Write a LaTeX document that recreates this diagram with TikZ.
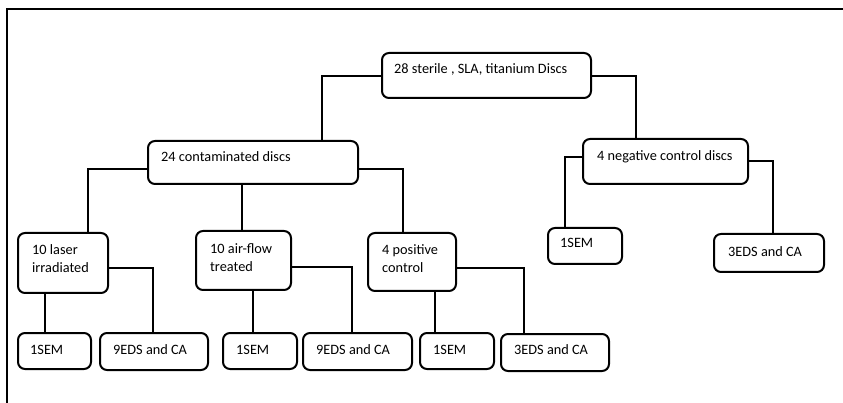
\documentclass[tikz,border=0pt]{standalone}
\usepackage{fontspec}
\setmainfont{Carlito}
\usetikzlibrary{calc}
\begin{document}
\begin{tikzpicture}[x=1pt,y=-1pt,
  box/.style={draw, line width=2pt, rounded corners=7pt, fill=white, inner sep=0pt, anchor=north west},
  lbl/.style={anchor=west, inner sep=0pt, align=left, font=\fontsize{14.3}{18}\selectfont},
  conn/.style={line width=2pt}]
\useasboundingbox (0,0) rectangle (843,403);
\draw[line width=2.5pt] (7,405) -- (7,9) -- (845,9);

% boxes
\node[box, minimum width=209pt, minimum height=45pt] (top) at (381,52) {};
\node[box, minimum width=210pt, minimum height=43pt] (c24) at (147,140) {};
\node[box, minimum width=165pt, minimum height=45pt] (neg) at (582,138) {};
\node[box, minimum width=90pt, minimum height=60pt] (laser) at (17,232) {};
\node[box, minimum width=95pt, minimum height=59pt] (air) at (195,230) {};
\node[box, minimum width=88pt, minimum height=58pt] (pos) at (367,232) {};
\node[box, minimum width=73pt, minimum height=36pt] (sem1) at (17,332) {};
\node[box, minimum width=108pt, minimum height=37pt] (eds1) at (99,332) {};
\node[box, minimum width=74pt, minimum height=36pt] (sem2) at (222,332) {};
\node[box, minimum width=109pt, minimum height=37pt] (eds2) at (302,332) {};
\node[box, minimum width=74pt, minimum height=36pt] (sem3) at (419,332) {};
\node[box, minimum width=108pt, minimum height=37pt] (eds3) at (500,333) {};
\node[box, minimum width=74pt, minimum height=36pt] (semN) at (547,227) {};
\node[box, minimum width=110pt, minimum height=38pt] (edsN) at (713,233) {};

% labels
\node[lbl] (ttop) at ($(top.north west)+(13,17)$) {28 sterile , SLA, titanium Discs};
\node[lbl] (tc24) at ($(c24.north west)+(14,17)$) {24 contaminated discs};
\node[lbl] (tneg) at ($(neg.north west)+(15,19)$) {4 negative control discs};
\node[lbl] (tlaser) at ($(laser.north west)+(15,27)$) {10 laser\\irradiated};
\node[lbl] (tair) at ($(air.north west)+(15,28)$) {10 air-flow\\treated};
\node[lbl] (tpos) at ($(pos.north west)+(15,27)$) {4 positive\\control};
\node[lbl] (tsem1) at ($(sem1.north west)+(13,18)$) {1SEM};
\node[lbl] (teds1) at ($(eds1.north west)+(14,18)$) {9EDS and CA};
\node[lbl] (tsem2) at ($(sem2.north west)+(14,18)$) {1SEM};
\node[lbl] (teds2) at ($(eds2.north west)+(14,18)$) {9EDS and CA};
\node[lbl] (tsem3) at ($(sem3.north west)+(14,18)$) {1SEM};
\node[lbl] (teds3) at ($(eds3.north west)+(14,17)$) {3EDS and CA};
\node[lbl] (tsemN) at ($(semN.north west)+(13,16)$) {1SEM};
\node[lbl] (tedsN) at ($(edsN.north west)+(15,19)$) {3EDS and CA};

% connectors
\draw[conn] ($(top.north west)+(0,24)$) -| ($(c24.north west)+(175,0)$);
\draw[conn] ($(top.north east)+(0,24)$) -| ($(neg.north west)+(54,0)$);
\draw[conn] ($(c24.north west)+(0,29)$) -| ($(laser.north west)+(71,0)$);
\draw[conn] ($(c24.south west)+(95,0)$) -- ($(air.north west)+(47,0)$);
\draw[conn] ($(c24.north east)+(0,29)$) -| ($(pos.north west)+(36,0)$);
\draw[conn] ($(laser.south west)+(28,0)$) -- ($(sem1.north west)+(28,0)$);
\draw[conn] ($(laser.north east)+(0,36)$) -| ($(eds1.north west)+(54,0)$);
\draw[conn] ($(air.south west)+(58,0)$) -- ($(sem2.north west)+(31,0)$);
\draw[conn] ($(air.north east)+(0,37)$) -| ($(eds2.north west)+(50,0)$);
\draw[conn] ($(pos.south west)+(68,0)$) -- ($(sem3.north west)+(16,0)$);
\draw[conn] ($(pos.north east)+(0,36)$) -| ($(eds3.north west)+(24,0)$);
\draw[conn] ($(neg.north west)+(0,19)$) -| ($(semN.north west)+(18,0)$);
\draw[conn] ($(neg.north east)+(0,23)$) -| ($(edsN.north west)+(60,0)$);
\end{tikzpicture}
\end{document}
